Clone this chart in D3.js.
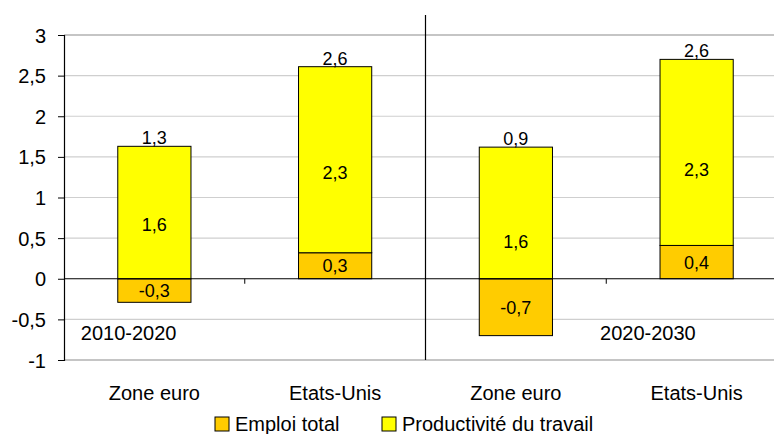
<!DOCTYPE html>
<html>
<head>
<meta charset="utf-8">
<script src="https://cdn.jsdelivr.net/npm/d3@7"></script>
<style>
  body { margin: 0; background: #fff; }
  text { font-family: "Liberation Sans", Arial, sans-serif; fill: #000; }
</style>
</head>
<body>
<svg width="774" height="434"></svg>
<script>
// chart data
const categories = ['Zone euro', 'Etats-Unis', 'Zone euro', 'Etats-Unis'];
const periods = ['2010-2020', '2020-2030'];
const emploi = [-0.29, 0.32, -0.70, 0.41];
const productivite = [1.63, 2.29, 1.62, 2.29];
const totals = [1.3, 2.6, 0.9, 2.6];
const yTicks = [-1, -0.5, 0, 0.5, 1, 1.5, 2, 2.5, 3];
const seriesNames = ['Emploi total', 'Productivité du travail'];

const svg = d3.select('svg');
const colors = ['#FFCC00', '#FFFF00'];
const frFmt = v => d3.format('.1f')(v).replace('.', ',').replace('−', '-');
const tickFmt = v => String(v).replace('.', ',');

const margin = { left: 64, top: 35, bottom: 360 };
const plotRight = 787;

// each category gets the same cell, bar centred in it
const x = d3.scaleBand()
    .domain(d3.range(categories.length))
    .range([margin.left, plotRight])
    .paddingInner(0.595)
    .paddingOuter(0.2975);

const y = d3.scaleLinear()
    .domain([-1, 3])
    .range([margin.bottom, margin.top]);

// gridlines
svg.append('g').selectAll('line')
    .data(yTicks.filter(t => t !== 0))
    .enter().append('line')
        .attr('x1', margin.left).attr('x2', plotRight)
        .attr('y1', d => y(d)).attr('y2', d => y(d))
        .attr('stroke', d => (d === 3 || d === -1) ? '#8c8c8c' : '#cfcfcf')
        .attr('stroke-width', 1.2);

// divider between the two periods
const mid = x.step() * 2 + margin.left;
svg.append('line')
    .attr('x1', mid).attr('x2', mid)
    .attr('y1', 15).attr('y2', y(-1))
    .attr('stroke', '#000').attr('stroke-width', 1.2);

// bars
const data = categories.map((c, i) => ({ i, emploi: emploi[i], prod: productivite[i], total: totals[i] }));
const bw = x.bandwidth();

const bars = svg.append('g');
data.forEach(d => {
    const base = Math.max(0, d.emploi);
    // emploi segment
    bars.append('rect')
        .attr('x', x(d.i)).attr('width', bw)
        .attr('y', y(Math.max(0, d.emploi)))
        .attr('height', Math.abs(y(d.emploi) - y(0)))
        .attr('fill', colors[0]).attr('stroke', '#000').attr('stroke-width', 1);
    // productivite segment
    bars.append('rect')
        .attr('x', x(d.i)).attr('width', bw)
        .attr('y', y(base + d.prod))
        .attr('height', y(base) - y(base + d.prod))
        .attr('fill', colors[1]).attr('stroke', '#000').attr('stroke-width', 1);
});

// zero line + boundary ticks
svg.append('line')
    .attr('x1', margin.left).attr('x2', plotRight)
    .attr('y1', y(0)).attr('y2', y(0))
    .attr('stroke', '#000').attr('stroke-width', 1.2);
svg.append('g').selectAll('line')
    .data([1, 3])
    .enter().append('line')
        .attr('x1', d => margin.left + x.step() * d).attr('x2', d => margin.left + x.step() * d)
        .attr('y1', y(0)).attr('y2', y(0) + 5)
        .attr('stroke', '#000');

// y axis
const yAxis = svg.append('g')
    .attr('transform', `translate(${margin.left},0)`)
    .call(d3.axisLeft(y).tickValues(yTicks).tickSize(6).tickPadding(12).tickFormat(tickFmt));
yAxis.select('.domain').attr('stroke', '#000').attr('stroke-width', 1.2);
yAxis.selectAll('.tick line').attr('stroke', '#000');
yAxis.selectAll('text')
    .style('font-size', '20px')
    .style('font-family', '"Liberation Sans", Arial, sans-serif')
    .attr('dy', '0.35em');

// data labels
const lbl = svg.append('g').style('font-size', '18px').attr('text-anchor', 'middle');
data.forEach(d => {
    const cx = x(d.i) + bw / 2;
    const base = Math.max(0, d.emploi);
    const top = base + d.prod;
    lbl.append('text')
        .attr('x', cx).attr('y', y(d.emploi / 2)).attr('dy', '0.36em')
        .text(frFmt(d.emploi));
    lbl.append('text')
        .attr('x', cx).attr('y', y((Math.min(0, d.emploi) + top) / 2)).attr('dy', '0.36em')
        .text(frFmt(d.prod));
    lbl.append('text')
        .attr('x', cx).attr('y', y(top) - 2)
        .text(frFmt(d.total));
});

// category labels
svg.append('g').selectAll('text')
    .data(categories)
    .enter().append('text')
        .attr('x', (d, i) => x(i) + bw / 2)
        .attr('y', 400)
        .attr('text-anchor', 'middle')
        .style('font-size', '20px')
        .text(d => d);

// period labels
svg.append('text')
    .attr('x', x(0) - 37).attr('y', y(-0.757))
    .style('font-size', '20px')
    .text(periods[0]);
svg.append('text')
    .attr('x', x(3) - 60).attr('y', y(-0.757))
    .style('font-size', '20px')
    .text(periods[1]);

// legend
const legX = [215, 382];
const leg = svg.append('g');
seriesNames.forEach((name, i) => {
    leg.append('rect')
        .attr('x', legX[i]).attr('y', 417)
        .attr('width', 14).attr('height', 14)
        .attr('fill', colors[i]).attr('stroke', '#000');
    leg.append('text')
        .attr('x', legX[i] + 20).attr('y', 431)
        .style('font-size', '20px')
        .text(name);
});
</script>
</body>
</html>
